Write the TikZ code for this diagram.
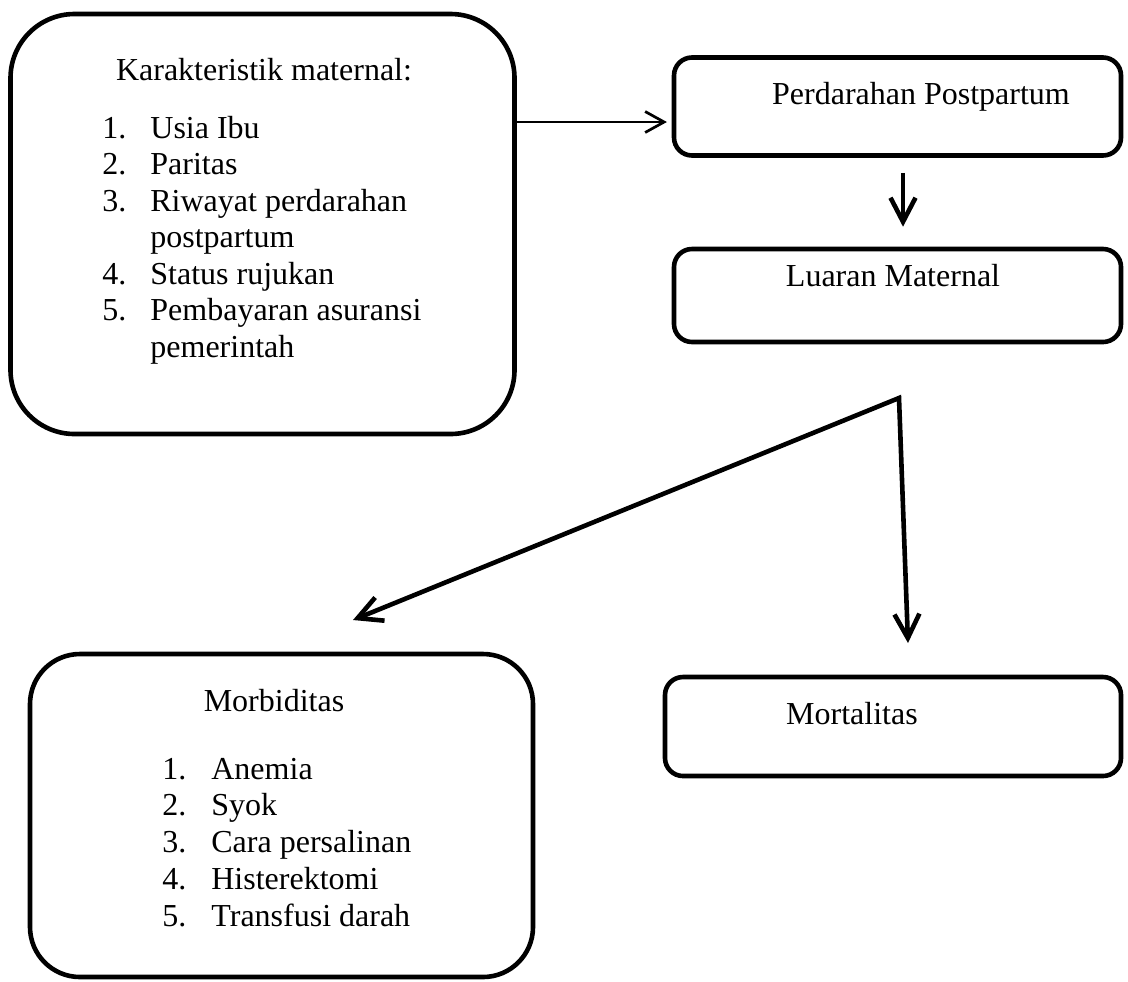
\documentclass[tikz,border=0pt]{standalone}
\usepackage{fontspec}
\setmainfont{Liberation Serif}
\usetikzlibrary{arrows.meta}

\tikzset{
  roundbox/.style={draw, line width=2.3pt, rounded corners=#1, inner sep=0pt},
  txt/.style={anchor=base, inner sep=0pt, font=\fontsize{16pt}{18.35pt}\selectfont},
  thinarrow/.style={line width=1.35pt, -{Straight Barb[length=9.5pt,width=10.5pt]}},
  thickarrow/.style={line width=2.3pt, -{Straight Barb[length=12pt,width=12.5pt]}},
  splitarrow/.style={line width=2.3pt, {Straight Barb[length=12pt,width=12.5pt]}-{Straight Barb[length=12pt,width=12.5pt]}}
}

\begin{document}
\begin{tikzpicture}[x=0.5pt, y=-0.5pt]
\useasboundingbox (0,0) rectangle (1128,981);

\node[roundbox=32pt, minimum width=252pt, minimum height=210pt] (kar) at (262.5,224) {};
\node[roundbox=9pt, minimum width=223.5pt, minimum height=49pt] (pp) at (897.5,106.5) {};
\node[roundbox=9pt, minimum width=223.5pt, minimum height=46.5pt] (lm) at (897.5,295.5) {};
\node[roundbox=25pt, minimum width=251.5pt, minimum height=161.5pt] (morb) at (281.5,815.5) {};
\node[roundbox=9pt, minimum width=228pt, minimum height=49.5pt] (mort) at (893,726.5) {};

\node[txt] (kartitle) at (264,80) {Karakteristik maternal:};
\node[txt, anchor=base west, font=\fontsize{16pt}{18.25pt}\selectfont] (karlist) at (102,138) {\begin{tabular}[t]{@{}p{24pt}@{}l@{}}
1. & Usia Ibu\\
2. & Paritas\\
3. & Riwayat perdarahan\\
   & postpartum\\
4. & Status rujukan\\
5. & Pembayaran asuransi\\
   & pemerintah
\end{tabular}};
\node[txt] (pptitle) at (921,104) {Perdarahan Postpartum};
\node[txt] (lmtitle) at (893,286) {Luaran Maternal};
\node[txt] (morbtitle) at (274,711) {Morbiditas};
\node[txt, anchor=base west, font=\fontsize{16pt}{18.4pt}\selectfont] (morblist) at (162,779) {\begin{tabular}[t]{@{}p{24.5pt}@{}l@{}}
1. & Anemia\\
2. & Syok\\
3. & Cara persalinan\\
4. & Histerektomi\\
5. & Transfusi darah
\end{tabular}};
\node[txt] (morttitle) at (852,724) {Mortalitas};

\coordinate (hy) at (0,122);
\coordinate (split) at (899,398);
\coordinate (morbtip) at (353,620);
\coordinate (morttip) at (908,643);

\draw[thinarrow, shorten >=2.4pt] (kar.east |- hy) -- (pp.west |- hy);
\draw[thickarrow, shorten <=7.5pt, shorten >=10pt] ([xshift=2.75pt]pp.south) -- ([xshift=2.75pt]lm.north);
\draw[splitarrow] (morbtip) -- (split) -- (morttip);
\end{tikzpicture}
\end{document}
